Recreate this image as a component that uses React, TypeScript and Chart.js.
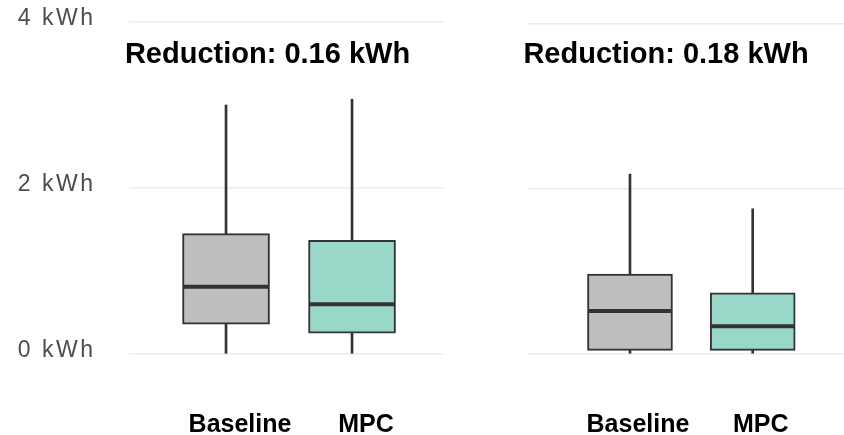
import React, { useEffect, useRef } from 'react';
import { Chart, registerables } from 'chart.js';

Chart.register(...registerables);

// ---- data ----
const categories = ['Baseline', 'MPC'];
const panelTitles = ['Reduction: 0.16 kWh', 'Reduction: 0.18 kWh'];
const yTickValues = [0, 2, 4];
const boxColors = ['#bebebe', '#99d8c9'];

const leftMin = [0, 0];
const leftQ1 = [0.36, 0.25];
const leftMedian = [0.81, 0.6];
const leftQ3 = [1.45, 1.37];
const leftMax = [3.0, 3.07];

const rightMin = [0, 0];
const rightQ1 = [0.044, 0.044];
const rightMedian = [0.52, 0.335];
const rightQ3 = [0.97, 0.74];
const rightMax = [2.18, 1.76];

const FONT = "'Liberation Sans', Arial, Helvetica, sans-serif";

type Stats = { min: number[]; q1: number[]; median: number[]; q3: number[]; max: number[] };

type PanelProps = {
  stats: Stats;
  showY: boolean;
  padding: { top: number; right: number; bottom: number; left: number };
  xMin: number;
  xMax: number;
  boxWidth: number;
  labelOffset: number;
  canvasLeft: number;
  canvasWidth: number;
};

const zeroPad = (s: any) => {
  s.paddingTop = 0;
  s.paddingBottom = 0;
  s.paddingLeft = 0;
  s.paddingRight = 0;
};

const spacingPlugin = {
  id: 'ySpacing',
  afterDatasetsDraw(chart: any) {
    try {
      chart.ctx.letterSpacing = '2.5px';
    } catch (e) {}
  },
  afterDraw(chart: any) {
    try {
      chart.ctx.letterSpacing = '0px';
    } catch (e) {}
  },
};

function BoxPanel(props: PanelProps) {
  const ref = useRef<HTMLCanvasElement | null>(null);
  useEffect(() => {
    const { stats, showY, padding, xMin, xMax, boxWidth, labelOffset } = props;
    const xs = categories.map((_, i) => i + 1);
    const chart = new Chart(ref.current as HTMLCanvasElement, {
      type: 'bar',
      data: {
        datasets: [
          {
            type: 'scatter',
            data: xs.map((x, i) => ({ x, y: stats.median[i] })),
            pointStyle: 'line',
            pointRadius: boxWidth / 2 - 1,
            pointHoverRadius: boxWidth / 2 - 1,
            pointBorderWidth: 4,
            pointBorderColor: '#333333',
            pointBackgroundColor: '#333333',
            clip: false,
            order: 1,
          } as any,
          {
            type: 'bar',
            data: xs.map((x, i) => ({ x, y: [stats.q1[i], stats.q3[i]] })),
            backgroundColor: boxColors,
            borderColor: '#333333',
            borderWidth: 2,
            borderSkipped: false,
            barThickness: boxWidth,
            grouped: false,
            order: 2,
          } as any,
          {
            type: 'bar',
            data: xs.map((x, i) => ({ x, y: [stats.min[i], stats.max[i]] })),
            backgroundColor: '#333333',
            borderWidth: 0,
            barThickness: 2,
            grouped: false,
            order: 3,
          } as any,
        ],
      },
      plugins: [spacingPlugin],
      options: {
        animation: false,
        responsive: false,
        events: [],
        layout: { padding, autoPadding: false },
        plugins: { legend: { display: false }, tooltip: { enabled: false }, title: { display: false } },
        scales: {
          x: {
            type: 'linear',
            min: xMin,
            max: xMax,
            offset: false,
            grid: { display: false },
            border: { display: false },
            afterBuildTicks: (s: any) => {
              s.ticks = xs.map((v) => ({ value: v }));
            },
            afterFit: (s: any) => {
              s.height = 81;
              zeroPad(s);
            },
            ticks: {
              autoSkip: false,
              maxRotation: 0,
              padding: 48,
              labelOffset,
              color: '#000000',
              font: { family: FONT, size: 25, weight: 'bold' },
              callback: (v: any) => categories[Math.round(Number(v)) - 1] ?? '',
            },
          },
          y: {
            type: 'linear',
            min: 0,
            max: 4,
            grid: { color: '#ebebeb', lineWidth: 1.5, drawTicks: false },
            border: { display: false },
            afterBuildTicks: (s: any) => {
              s.ticks = yTickValues.map((v) => ({ value: v }));
            },
            afterFit: (s: any) => {
              s.width = showY ? 129 : 0;
              zeroPad(s);
            },
            ticks: {
              display: showY,
              z: 1,
              padding: 33.5,
              labelOffset: -3,
              color: '#4d4d4d',
              font: { family: FONT, size: 23 },
              callback: (v: any) => `${v} kWh`,
            },
          },
        },
      } as any,
    });
    return () => chart.destroy();
  }, []);
  return (
    <canvas
      ref={ref}
      width={props.canvasWidth}
      height={435}
      style={{ position: 'absolute', left: props.canvasLeft, top: 0, width: props.canvasWidth, height: 435 }}
    />
  );
}

const titleStyle = (center: number): React.CSSProperties => ({
  position: 'absolute',
  left: center - 200,
  width: 400,
  top: 39,
  textAlign: 'center',
  fontFamily: FONT,
  fontWeight: 'bold',
  fontSize: 29,
  lineHeight: '29px',
  color: '#000000',
  whiteSpace: 'nowrap',
});

export default function App() {
  return (
    <div
      style={{ position: 'fixed', left: 0, top: 0, width: 844, height: 435, background: '#ffffff', overflow: 'hidden' }}
    >
      <BoxPanel
        stats={{ min: leftMin, q1: leftQ1, median: leftMedian, q3: leftQ3, max: leftMax }}
        showY={true}
        padding={{ top: 22, right: 7, bottom: 0, left: 0 }}
        xMin={0.23}
        xMax={2.722}
        boxWidth={87}
        labelOffset={14}
        canvasLeft={0}
        canvasWidth={450}
      />
      <BoxPanel
        stats={{ min: rightMin, q1: rightQ1, median: rightMedian, q3: rightQ3, max: rightMax }}
        showY={false}
        padding={{ top: 24, right: 0, bottom: 0, left: 78 }}
        xMin={0.169}
        xMax={2.744}
        boxWidth={85}
        labelOffset={8}
        canvasLeft={450}
        canvasWidth={394}
      />
      <div style={titleStyle(267.5)}>{panelTitles[0]}</div>
      <div style={titleStyle(666)}>{panelTitles[1]}</div>
    </div>
  );
}
